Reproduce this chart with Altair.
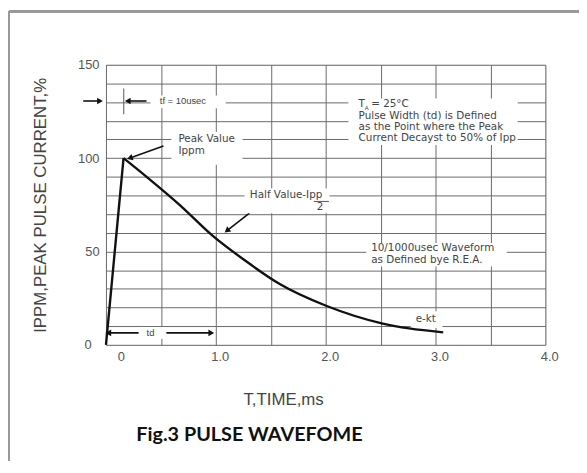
import altair as alt
import pandas as pd

# ---- pulse curve ----
t_ms = [0.0, 0.16, 0.37, 0.67, 0.97, 1.27, 1.57, 2.01, 2.52, 2.76, 3.07]
ipp_pct = [0, 100, 90, 75, 58.5, 45, 33, 20.8, 11.4, 8.8, 6.7]
segment = ["rise", "rise"] + ["decay"] * 9

# ---- axis ticks ----
x_ticks = [0.0, 0.5, 1.0, 1.5, 2.0, 2.5, 3.0, 3.5, 4.0]
y_ticks = list(range(0, 151, 10))

# ---- annotation texts (wide notes) ----
note_text = ["Peak Value", "Ippm", "Half Value-Ipp", "2",
             "T", "= 25°C", "Pulse Width (td) is Defined", "as the Point where the Peak",
             "Current Decayst to 50% of Ipp", "10/1000usec Waveform", "as Defined bye R.E.A.",
             "e-kt"]
note_x = [0.66, 0.66, 1.31, 1.92, 2.30, 2.414, 2.30, 2.30, 2.30, 2.414, 2.414, 2.82]
note_y = [110.2, 104.0, 80.0, 73.7, 128.8, 128.8, 122.4, 116.6, 110.8, 51.9, 45.2, 13.8]

# ---- small notes ----
small_text = ["tf = 10usec", "td"]
small_x = [0.49, 0.37]
small_y = [130.6, 6.4]

sub_text = ["A"]
sub_x = [2.355]
sub_y = [127.0]

caption_text = ["Fig.3 PULSE WAVEFOME"]

# white boxes behind the notes (data coords)
box_x1 = [0.405, 0.595, 1.261, 2.207, 2.369, 2.775, 0.297]
box_x2 = [1.090, 1.243, 2.036, 3.748, 3.649, 3.063, 0.550]
box_y1 = [126.7, 96.4, 70.5, 107.0, 41.9, 9.0, 3.2]
box_y2 = [133.5, 114.0, 83.7, 132.0, 54.6, 18.0, 9.5]

# arrow shafts and heads
arrow_x1 = [-0.207, 0.369, 0.523, 1.306, 0.03]
arrow_x2 = [-0.063, 0.207, 0.225, 1.108, 0.95]
arrow_y1 = [130.6, 130.6, 106.5, 70.5, 6.4]
arrow_y2 = [130.6, 130.6, 100.2, 61.5, 6.4]
head_x = [-0.063, 0.207, 0.225, 1.108, 0.03, 0.95]
head_y = [130.6, 130.6, 100.2, 61.5, 6.4, 6.4]
head_angle = [90, 270, 251.6, 232, 270, 90]

# thin marks: tf tick and fraction bar
thin_x1 = [0.162, 1.892]
thin_x2 = [0.162, 2.030]
thin_y1 = [137.3, 76.8]
thin_y2 = [123.5, 76.8]

curve = pd.DataFrame({"t": t_ms, "ipp": ipp_pct, "seg": segment})
notes = pd.DataFrame({"text": note_text, "x": note_x, "y": note_y})
smalls = pd.DataFrame({"text": small_text, "x": small_x, "y": small_y})
subs = pd.DataFrame({"text": sub_text, "x": sub_x, "y": sub_y})
caps = pd.DataFrame({"text": caption_text})
boxes = pd.DataFrame({"x1": box_x1, "x2": box_x2, "y1": box_y1, "y2": box_y2})
arrows = pd.DataFrame({"x1": arrow_x1, "x2": arrow_x2, "y1": arrow_y1, "y2": arrow_y2})
heads = pd.DataFrame({"x": head_x, "y": head_y, "a": head_angle})
thins = pd.DataFrame({"x1": thin_x1, "x2": thin_x2, "y1": thin_y1, "y2": thin_y2})

FONT = "Liberation Sans"
NOTE_FONT = "DejaVu Sans"
GRID = "#6a6a6a"
xs = alt.Scale(domain=[0, 4], nice=False, zero=False)
ys = alt.Scale(domain=[0, 150], nice=False)

x_axis = alt.Axis(
    values=x_ticks, tickCount=40,
    labelExpr="datum.value % 1 == 0 ? (datum.value == 0 ? '0' : format(datum.value, '.1f')) : ''",
    title="T,TIME,ms", titleFont=FONT, titleFontSize=17, titleFontWeight="normal",
    titleColor="#444", titleX=179, titlePadding=28,
    labelFont=FONT, labelFontSize=13, labelColor="#555", labelPadding=6,
    labelOffset={"condition": {"test": "datum.value == 0", "value": 15}, "value": 4},
    labelFlush=False, labelOverlap=False,
    ticks=False, domain=False, grid=True, gridColor=GRID, gridWidth=1,
)
y_axis = alt.Axis(
    values=y_ticks, tickCount=40,
    labelExpr="datum.value % 50 == 0 ? datum.label : ''",
    title="IPPM,PEAK PULSE  CURRENT,%", titleFont=FONT, titleFontSize=17,
    titleFontWeight="normal", titleColor="#444", titlePadding=28,
    labelFont=FONT, labelFontSize=13, labelColor="#555",
    labelPadding={"condition": {"test": "datum.value == 0", "value": 15}, "value": 7},
    labelOverlap=False, labelFlush=False,
    ticks=False, domain=False, grid=True, gridColor=GRID, gridWidth=1,
)

base_grid = alt.Chart(curve).mark_line(opacity=0).encode(
    x=alt.X("t:Q", scale=xs, axis=x_axis),
    y=alt.Y("ipp:Q", scale=ys, axis=y_axis),
)

shafts = alt.Chart(arrows).mark_rule(color="#111", strokeWidth=1.6).encode(
    x="x1:Q", x2="x2:Q", y="y1:Q", y2="y2:Q")

white = alt.Chart(boxes).mark_rect(color="white").encode(
    x="x1:Q", x2="x2:Q", y="y1:Q", y2="y2:Q")

thin = alt.Chart(thins).mark_rule(color="#555", strokeWidth=1).encode(
    x="x1:Q", x2="x2:Q", y="y1:Q", y2="y2:Q")

texts = alt.Chart(notes).mark_text(
    align="left", baseline="middle", font=NOTE_FONT, fontSize=10.5, color="#444"
).encode(x="x:Q", y="y:Q", text="text:N")

small = alt.Chart(smalls).mark_text(
    align="left", baseline="middle", font=FONT, fontSize=9.5, color="#444"
).encode(x="x:Q", y="y:Q", text="text:N")

sub = alt.Chart(subs).mark_text(
    align="left", baseline="middle", font=FONT, fontSize=6, color="#444"
).encode(x="x:Q", y="y:Q", text="text:N")

rise = alt.Chart(curve).transform_filter("datum.seg == 'rise' || datum.t == 0.16").mark_line(
    color="#111", strokeWidth=2.4).encode(x="t:Q", y="ipp:Q")
decay = alt.Chart(curve).transform_filter("datum.seg == 'decay' || datum.t == 0.16").mark_line(
    color="#111", strokeWidth=2.4, interpolate="monotone").encode(x="t:Q", y="ipp:Q")

tips = alt.Chart(heads).mark_point(
    shape="triangle", filled=True, color="#111", size=45, opacity=1
).encode(x="x:Q", y="y:Q", angle=alt.Angle("a:Q", scale=None))

caption = alt.Chart(caps).mark_text(
    font="Lato", fontSize=20, fontWeight="bold", color="#111", align="center", baseline="middle"
).encode(x=alt.value(145), y=alt.value(374), text="text:N")

frame_left = alt.Chart(curve).mark_rule(color="#999", strokeWidth=2).encode(
    x=alt.value(-98), y=alt.value(-54), y2=alt.value(420))
frame_top = alt.Chart(curve).mark_rule(color="#999", strokeWidth=2).encode(
    x=alt.value(-98), x2=alt.value(480), y=alt.value(-54))

chart = alt.layer(
    base_grid, shafts, white, thin, texts, small, sub, rise, decay, tips, caption,
    frame_left, frame_top
).properties(
    width=444, height=283,
    padding={"left": 99, "top": 55, "right": 34, "bottom": 115},
    autosize=alt.AutoSizeParams(type="none"),
).configure_view(stroke="#333", strokeWidth=1.2).configure(background="white")

chart.save("out.html", embed_options={"renderer": "svg", "actions": False})
